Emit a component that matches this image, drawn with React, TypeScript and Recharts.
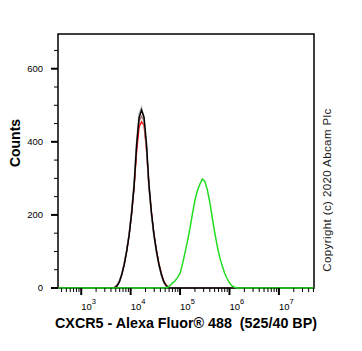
import { Line, LineChart, ReferenceArea, XAxis, YAxis } from "recharts";

// histogram bins, as log10 of the fluorescence intensity
const ctrlExp = [
  2.54, 3.62, 3.67, 3.72, 3.77, 3.82, 3.87, 3.92, 3.97, 4.02, 4.07, 4.12, 4.17, 4.22, 4.27, 4.32,
  4.37, 4.42, 4.47, 4.52, 4.57, 4.62, 4.67, 4.72, 4.77, 4.82, 7.7,
];
const blackCounts = [
  0, 0, 0, 5, 16, 36, 64, 100, 145, 205, 280, 390, 465, 487, 468, 395, 284, 208, 148, 103, 66, 38,
  17, 6, 1, 0, 0,
];
const grayCounts = [
  0, 0, 1, 6, 18, 39, 68, 105, 150, 212, 290, 400, 475, 494, 460, 383, 275, 200, 142, 98, 62, 35,
  15, 5, 1, 0, 0,
];
const redCounts = [
  0, 0, 2, 7, 18, 38, 66, 102, 146, 205, 275, 370, 440, 455, 445, 378, 278, 206, 148, 104, 68, 40,
  19, 8, 2, 0, 0,
];
const brownCounts = [
  0, 0, 1, 6, 17, 37, 65, 101, 146, 206, 278, 382, 455, 470, 458, 388, 281, 207, 148, 104, 67, 39,
  18, 7, 2, 0, 0,
];

const stainExp = [
  2.54, 4.7, 4.75, 4.8, 4.85, 4.9, 4.95, 5.0, 5.05, 5.1, 5.15, 5.2, 5.25, 5.3, 5.35, 5.4, 5.45,
  5.5, 5.55, 5.6, 5.65, 5.7, 5.75, 5.8, 5.85, 5.9, 5.95, 6.0, 6.05, 6.1, 6.15, 7.7,
];
const greenCounts = [
  0, 0, 2, 7, 14, 20, 29, 40, 66, 97, 128, 163, 203, 240, 266, 284, 298, 292, 270, 236, 193, 153,
  116, 85, 62, 41, 26, 14, 6, 2, 0, 0,
];

const xDomain = [10 ** 2.53, 10 ** 7.71];
const xTicks = [
  400, 500, 600, 700, 800, 900, 1e3, 2e3, 3e3, 4e3, 5e3, 6e3, 7e3, 8e3, 9e3, 1e4, 2e4, 3e4, 4e4,
  5e4, 6e4, 7e4, 8e4, 9e4, 1e5, 2e5, 3e5, 4e5, 5e5, 6e5, 7e5, 8e5, 9e5, 1e6, 2e6, 3e6, 4e6, 5e6,
  6e6, 7e6, 8e6, 9e6, 1e7, 2e7, 3e7, 4e7, 5e7,
];
const yMax = 695;
const yTicks = [0, 50, 100, 150, 200, 250, 300, 350, 400, 450, 500, 550, 600, 650];

const font = "Arial, 'Liberation Sans', sans-serif";

const toSeries = (exps: number[], counts: number[]) =>
  exps.map((e, i) => ({ x: 10 ** e, y: counts[i] }));

function XTick({ x, y, payload }: any) {
  const exp = Math.log10(payload.value);
  const major = Math.abs(exp - Math.round(exp)) < 1e-6;
  return (
    <g>
      <line
        x1={x}
        x2={x}
        y1={y}
        y2={y + (major ? 7 : 4)}
        stroke="#000"
        strokeWidth={major ? 2 : 1}
      />
      {major && (
        <text x={x} y={y + 22} fontSize={9.5} fontFamily={font} fill="#000">
          10
          <tspan dy={-6} fontSize={7.5}>
            {Math.round(exp)}
          </tspan>
        </text>
      )}
    </g>
  );
}

function YTick({ x, y, payload }: any) {
  const major = payload.value % 200 === 0;
  return (
    <g>
      <line
        x1={x - (major ? 7 : 4)}
        x2={x}
        y1={y}
        y2={y}
        stroke="#000"
        strokeWidth={major ? 2 : 1}
      />
      {major && (
        <text x={x - 15} y={y + 3} textAnchor="end" fontSize={9.5} fontFamily={font} fill="#000">
          {payload.value}
        </text>
      )}
    </g>
  );
}

export default function App() {
  return (
    <div style={{ position: "absolute", left: 0, top: 0, background: "#fff" }}>
      <LineChart width={362} height={351} margin={{ top: 34, right: 48, bottom: 0, left: 0 }}>
        <XAxis
          dataKey="x"
          type="number"
          scale="log"
          domain={xDomain}
          allowDataOverflow
          ticks={xTicks}
          interval={0}
          height={63}
          tickSize={0}
          tickMargin={0}
          axisLine={false}
          tickLine={false}
          tick={<XTick />}
          label={{
            content: ({ viewBox }: any) => (
              <text
                x={viewBox.x + viewBox.width / 2}
                y={viewBox.y + 40}
                textAnchor="middle"
                fontSize={14.3}
                fontWeight="bold"
                fontFamily={font}
                fill="#000"
              >
                CXCR5 - Alexa Fluor® 488{"\u00a0\u00a0"}(525/40 BP)
              </text>
            ),
          }}
        />
        <YAxis
          type="number"
          domain={[0, yMax]}
          ticks={yTicks}
          interval={0}
          width={58}
          tickSize={0}
          tickMargin={0}
          axisLine={false}
          tickLine={false}
          tick={<YTick />}
          label={{
            content: ({ viewBox }: any) => (
              <text
                x={20}
                y={viewBox.y + viewBox.height / 2 - 18}
                transform={`rotate(-90 20 ${viewBox.y + viewBox.height / 2 - 18})`}
                textAnchor="middle"
                fontSize={14}
                fontWeight="bold"
                fontFamily={font}
                fill="#000"
              >
                Counts
              </text>
            ),
          }}
        />
        <ReferenceArea
          x1={xDomain[0]}
          x2={xDomain[1]}
          y1={0}
          y2={yMax}
          fill="none"
          stroke="#000"
          strokeWidth={1.5}
          ifOverflow="visible"
          label={{
            content: ({ viewBox }: any) => {
              const cx = viewBox.x + viewBox.width + 14;
              const cy = 190;
              return (
                <text
                  x={cx}
                  y={cy}
                  transform={`rotate(-90 ${cx} ${cy})`}
                  textAnchor="middle"
                  dominantBaseline="middle"
                  fontSize={11.5}
                  letterSpacing={0.4}
                  fontFamily={font}
                  fill="#222"
                >
                  Copyright (c) 2020 Abcam Plc
                </text>
              );
            },
          }}
        />
        <Line
          data={toSeries(ctrlExp, brownCounts)}
          dataKey="y"
          stroke="#b06868"
          strokeWidth={1.3}
          dot={false}
          isAnimationActive={false}
        />
        <Line
          data={toSeries(ctrlExp, redCounts)}
          dataKey="y"
          stroke="#ff0000"
          strokeWidth={1.3}
          dot={false}
          isAnimationActive={false}
        />
        <Line
          data={toSeries(ctrlExp, grayCounts)}
          dataKey="y"
          stroke="#a8a8a8"
          strokeWidth={1.5}
          dot={false}
          isAnimationActive={false}
        />
        <Line
          data={toSeries(ctrlExp, blackCounts)}
          dataKey="y"
          stroke="#000000"
          strokeWidth={1.5}
          dot={false}
          isAnimationActive={false}
        />
        <Line
          data={toSeries(stainExp, greenCounts)}
          dataKey="y"
          stroke="#22dd22"
          strokeWidth={1.5}
          dot={false}
          isAnimationActive={false}
        />
      </LineChart>
    </div>
  );
}
